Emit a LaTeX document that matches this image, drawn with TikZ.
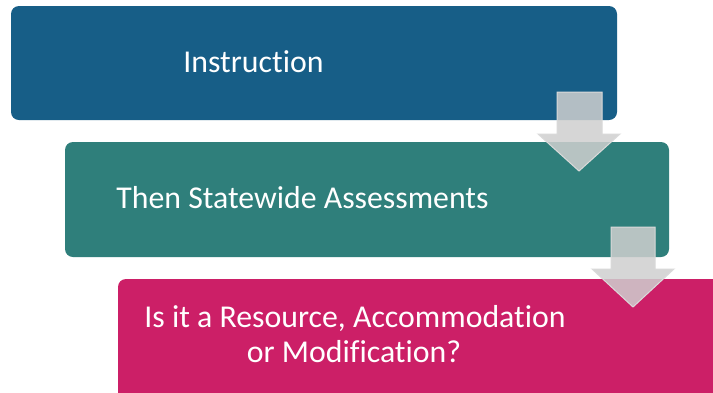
\documentclass[tikz,border=0pt]{standalone}
\usepackage{fontspec}
\setmainfont{Carlito}[Ligatures=NoCommon]
\definecolor{boxblue}{HTML}{175E87}
\definecolor{boxteal}{HTML}{2F7F7B}
\definecolor{boxpink}{HTML}{CC1F67}
\definecolor{arrowfill}{HTML}{CFCFCF}
\definecolor{arrowline}{HTML}{DADADA}
\tikzset{
  stepbox/.style={draw=none, rounded corners=8pt, inner sep=0pt},
  label/.style={text=white, font=\fontsize{31.8}{35}\selectfont, inner sep=0pt},
  downarrow/.style={fill=arrowfill, fill opacity=0.85, draw=arrowline, line width=1pt}
}
\begin{document}
\begin{tikzpicture}[x=1pt,y=-1pt]
\useasboundingbox (0,0) rectangle (713,392);
\clip (0,0) rectangle (713,392);
\fill[white] (0,0) rectangle (713,392);
% boxes
\filldraw[stepbox, fill=boxblue] (11,6) rectangle (617,120);
\filldraw[stepbox, fill=boxteal] (65,142) rectangle (669,257);
\filldraw[stepbox, fill=boxpink] (118,279) rectangle (740,420);
% arrows
\draw[downarrow] (557,92) -- (602,92) -- (602,134) -- (620,134) -- (579,171) -- (538,134) -- (557,134) -- cycle;
\draw[downarrow] (611,227) -- (655,227) -- (655,269) -- (674,269) -- (633,307) -- (592,269) -- (611,269) -- cycle;
% texts
\node[label, anchor=base] (t1) at (253.5,72) {Instruction};
\node[label, anchor=base] (t2) at (302.5,208) {Then Statewide Assessments};
\node[label, anchor=base] (t3a) at (355,327) {Is it a Resource, Accommodation};
\node[label, anchor=base] (t3b) at (354,362) {or Modification?};
\end{tikzpicture}
\end{document}
